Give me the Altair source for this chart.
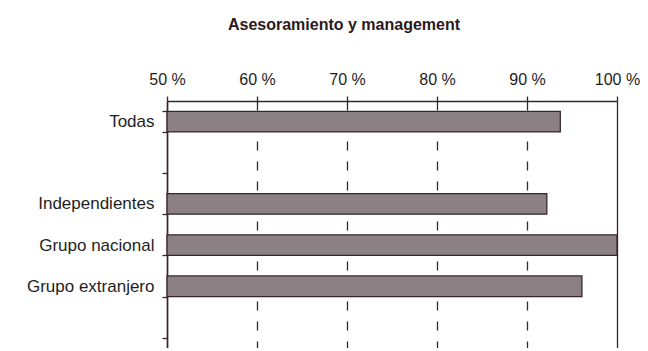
import altair as alt
import pandas as pd

categories = ["Todas", " ", "Independientes", "Grupo nacional", "Grupo extranjero", "  "]
values = [93.7, None, 92.2, 100.0, 96.1, None]
tick_values = [50, 60, 70, 80, 90, 100]

df = pd.DataFrame({"cat": categories, "val": values})

ink = "#3a2629"

bars = alt.Chart(df).mark_bar(
    color="#8b8084", stroke=ink, strokeWidth=1.3
).encode(
    y=alt.Y("cat:N", sort=categories, title=None,
            scale=alt.Scale(paddingInner=0.5, paddingOuter=0.25),
            axis=alt.Axis(orient="left", tickBand="extent", labelFontSize=17,
                          labelColor="#1e1e1e", labelFont="Liberation Sans",
                          labelPadding=8, tickSize=5, tickColor=ink,
                          domainColor=ink, domainWidth=1.5, tickWidth=1.3,
                          grid=False)),
    x=alt.X("val:Q", title=None,
            scale=alt.Scale(domain=[50, 100], zero=False, nice=False),
            axis=alt.Axis(orient="top", values=tick_values,
                          labelExpr="datum.value + ' %'", labelFontSize=16,
                          labelColor="#1e1e1e", labelFont="Liberation Sans",
                          labelFlush=False, labelOverlap=False,
                          labelPadding=9, tickSize=5, tickColor=ink,
                          tickWidth=1.3, domainColor=ink, domainWidth=1.3,
                          grid=True, gridColor=ink, gridWidth=1.3,
                          gridDash={"condition": {"test": "datum.value === 100 || datum.value === 50",
                                                  "value": []},
                                    "value": [9, 11]},
                          gridOpacity=1)),
    x2=alt.datum(50),
)

chart = bars.properties(
    width=450, height=247,
    autosize=alt.AutoSizeParams(type="none"),
    padding={"left": 159, "top": 93, "right": 23, "bottom": 0},
    title=alt.TitleParams("Asesoramiento y management", fontSize=16,
                          font="Liberation Sans", fontWeight="bold",
                          color="#2a1a1d", dx=-48, offset=38, anchor="middle"),
).configure_view(stroke=None).configure(background="white")

chart.save("out.html", embed_options={"renderer": "svg", "actions": False})
